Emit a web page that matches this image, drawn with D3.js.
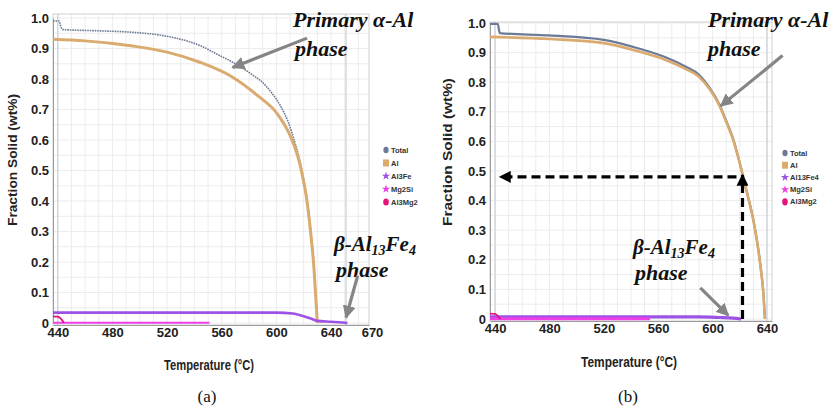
<!DOCTYPE html>
<html>
<head>
<meta charset="utf-8">
<script src="https://cdn.jsdelivr.net/npm/d3@7"></script>
<style>
  body { margin: 0; background: #fff; }
  svg { display: block; }
  .tick text { font-family: "Liberation Sans", Arial, sans-serif; font-weight: bold; fill: #222; }
</style>
</head>
<body>
<script>
// ---- data (temperature in °C, fraction solid) ----
const legendA = ["Total", "Al", "Al3Fe", "Mg2Si", "Al3Mg2"];
const legendB = ["Total", "Al", "Al13Fe4", "Mg2Si", "Al3Mg2"];
const tempTicksA = [440, 480, 520, 560, 600, 640, 670];
const tempTicksB = [440, 480, 520, 560, 600, 640];
const fracTicks = [0, 0.1, 0.2, 0.3, 0.4, 0.5, 0.6, 0.7, 0.8, 0.9, 1.0];

// panel (a)
const totalA = [[436.5,0.99],[441,0.99],[442.5,0.968],[444,0.962],[470,0.958],[495,0.953],[520,0.94],[544,0.91],[558,0.878],[568,0.855],[582,0.815],[590,0.788],[597,0.752],[603,0.712],[609,0.655],[613,0.6],[617,0.535],[620,0.47],[622,0.42],[625,0.31],[627.5,0.19],[629,0.08],[630,0]];
const alA = [[436.5,0.93],[460,0.925],[495,0.908],[520,0.888],[544,0.855],[568,0.806],[587,0.743],[600,0.69],[605,0.657],[609,0.625],[613,0.582],[617,0.525],[620,0.462],[622,0.412],[625,0.3],[627.5,0.18],[629,0.07],[630,0]];
const al3FeA = [[436.5,0.034],[600,0.034],[612,0.031],[620,0.022],[626,0.013],[630,0.007],[640,0.004],[648,0.0015],[652,0]];
const mg2SiA = [[436.5,0.001],[551,0.001]];
const al3Mg2A = [[436.5,0.022],[440,0.021],[442,0.015],[443.5,0.007],[444.5,0]];

// panel (b)
const totalB = [[436.3,0.997],[442,0.997],[443.5,0.966],[480,0.958],[520,0.943],[547,0.912],[565,0.885],[580,0.853],[590,0.825],[598,0.78],[605,0.725],[610,0.67],[615,0.61],[619,0.545],[622,0.49],[626,0.415],[630,0.335],[633,0.255],[635.5,0.17],[637.5,0.08],[638.5,0]];
const alB = [[436.3,0.953],[480,0.946],[520,0.932],[547,0.902],[565,0.876],[580,0.845],[590,0.818],[598,0.775],[605,0.721],[610,0.666],[615,0.607],[619,0.543],[622,0.488],[626,0.413],[630,0.333],[633,0.253],[635.5,0.168],[637.5,0.078],[638.5,0]];
const al13Fe4B = [[436.3,0.007],[590,0.007],[605,0.005],[615,0.003],[621,0]];
const mg2SiB = [[436.3,0.001],[554,0.001]];
const al3Mg2B = [[436.3,0.018],[440,0.017],[442,0.01],[443.5,0.003],[444,0]];

// estimate of the 50 % solid point marked in (b)
const halfSolidB = [[622, 0.48]];

const colors = {
  "Total": "#6c7a96", "Al": "#d9ab6e", "Al3Fe": "#9d52e6", "Al13Fe4": "#9d52e6",
  "Mg2Si": "#ee3fe6", "Al3Mg2": "#e5127a"
};

const W = 835, H = 406;
const svg = d3.select("body").append("svg").attr("width", W).attr("height", H);

const defs = svg.append("defs");
function arrowMarker(id, color, size) {
  defs.append("marker")
    .attr("id", id)
    .attr("viewBox", "0 0 10 10")
    .attr("refX", 9).attr("refY", 5)
    .attr("markerWidth", size).attr("markerHeight", size)
    .attr("markerUnits", "userSpaceOnUse")
    .attr("orient", "auto")
    .append("path").attr("d", "M0,0 L10,5 L0,10 Z").attr("fill", color);
}
arrowMarker("grayHead", "#858585", 13);
arrowMarker("blackHead", "#000", 12);

function drawPanel(p) {
  const x = d3.scaleLinear().domain(p.xDomain).range([p.left, p.right]);
  const y = d3.scaleLinear().domain([0, 1]).range([p.y0, p.y1]);
  const g = svg.append("g");

  // grid
  const vGrid = d3.range(440, p.xDomain[1], 10);
  g.selectAll(".vg").data(vGrid).enter().append("line")
    .attr("x1", d => x(d)).attr("x2", d => x(d))
    .attr("y1", p.top).attr("y2", p.bottom)
    .attr("stroke", "#ececec").attr("stroke-width", 1);
  const hGrid = d3.range(0, 1.001, 0.05);
  g.selectAll(".hg").data(hGrid).enter().append("line")
    .attr("x1", p.left).attr("x2", p.right)
    .attr("y1", d => y(d)).attr("y2", d => y(d))
    .attr("stroke", "#ececec").attr("stroke-width", 1);
  // darker range lines
  g.selectAll(".rg").data(p.rangeLines).enter().append("line")
    .attr("x1", d => x(d)).attr("x2", d => x(d))
    .attr("y1", p.top).attr("y2", p.bottom)
    .attr("stroke", "#c9ced6").attr("stroke-width", 1.2);

  // frame
  g.append("rect")
    .attr("x", p.left).attr("y", p.top)
    .attr("width", p.right - p.left).attr("height", p.bottom - p.top)
    .attr("fill", "none").attr("stroke", "#cfcfcf");

  // axes
  const yAxis = d3.axisLeft(y).tickValues(fracTicks).tickSize(0).tickPadding(4)
    .tickFormat(d => d === 0 ? "0" : d.toFixed(1));
  const ya = g.append("g").attr("transform", `translate(${p.left},0)`).call(yAxis);
  ya.select(".domain").attr("stroke", "#9a9a9a");
  ya.selectAll("text").style("font-size", "13px");

  const xAxis = d3.axisBottom(x).tickValues(p.xTicks).tickSize(0).tickPadding(3);
  const xa = g.append("g").attr("transform", `translate(0,${p.bottom})`).call(xAxis);
  xa.select(".domain").attr("stroke", "#9a9a9a");
  xa.selectAll("text").style("font-size", "13px");

  // axis titles
  g.append("text")
    .attr("transform", `translate(${p.yTitleX},${p.yTitleY}) rotate(-90)`)
    .attr("text-anchor", "middle")
    .attr("textLength", p.yTitleLen).attr("lengthAdjust", "spacingAndGlyphs")
    .style("font-family", "Liberation Sans, Arial, sans-serif")
    .style("font-weight", "bold").style("font-size", p.yTitleSize + "px")
    .attr("fill", "#222")
    .text("Fraction Solid (wt%)");
  g.append("text")
    .attr("x", (p.left + p.right) / 2 - 2).attr("y", p.xTitleY)
    .attr("text-anchor", "middle")
    .attr("textLength", p.xTitleLen).attr("lengthAdjust", "spacingAndGlyphs")
    .style("font-family", "Liberation Sans, Arial, sans-serif")
    .style("font-weight", "bold").style("font-size", "14.5px")
    .attr("fill", "#222")
    .text("Temperature (°C)");

  // curves
  const line = d3.line().x(d => x(d[0])).y(d => y(d[1])).curve(d3.curveMonotoneX);
  p.series.forEach(s => {
    g.append("path")
      .datum(s.data)
      .attr("d", line)
      .attr("fill", "none")
      .attr("stroke", colors[s.name])
      .attr("stroke-width", s.width)
      .attr("stroke-dasharray", s.dash || null)
      .attr("stroke-linejoin", "round");
  });

  // legend
  const lg = g.append("g").attr("transform", `translate(${p.legendX},${p.legendY})`);
  p.legend.forEach((name, i) => {
    const row = lg.append("g").attr("transform", `translate(0,${i * p.legendStep})`);
    const c = colors[name];
    if (name === "Total") {
      row.append("ellipse").attr("rx", 2.6).attr("ry", 3.2).attr("fill", c);
    } else if (name === "Al") {
      row.append("rect").attr("x", -3).attr("y", -3.5).attr("width", 6).attr("height", 7).attr("fill", c);
    } else if (name === "Al3Mg2") {
      row.append("ellipse").attr("rx", 2.8).attr("ry", 3.6).attr("fill", c);
    } else {
      row.append("path").attr("d", d3.symbol(d3.symbolStar, 22)()).attr("fill", c);
    }
    row.append("text").attr("x", 5).attr("y", 2.5)
      .style("font-family", "Liberation Sans, Arial, sans-serif")
      .style("font-weight", "bold").style("font-size", "7.5px")
      .attr("fill", "#333").text(name);
  });

  // annotations
  const ann = g.append("g")
    .style("font-family", "Liberation Serif, Times New Roman, serif")
    .style("font-weight", "bold").style("font-style", "italic")
    .style("font-size", "22px").attr("fill", "#111");
  ann.append("text").attr("x", p.primX).attr("y", p.primY).text("Primary α-Al");
  ann.append("text").attr("x", p.primX + p.phaseDx).attr("y", p.primY + 29).text("phase");
  const beta = ann.append("text").attr("x", p.betaX).attr("y", p.betaY).style("font-size", "21px");
  beta.append("tspan").text("β-Al");
  beta.append("tspan").attr("dy", 4).style("font-size", "14px").text("13");
  beta.append("tspan").attr("dy", -4).text("Fe");
  beta.append("tspan").attr("dy", 4).style("font-size", "14px").text("4");
  ann.append("text").attr("x", p.betaX + 2).attr("y", p.betaY + 26).text("phase");

  p.arrows.forEach(a => {
    g.append("line")
      .attr("x1", x(a[0][0])).attr("y1", y(a[0][1]))
      .attr("x2", x(a[1][0])).attr("y2", y(a[1][1]))
      .attr("stroke", "#858585").attr("stroke-width", 3.2)
      .attr("marker-end", "url(#grayHead)");
  });

  // 50 % solid guide (panel b)
  if (p.guide) {
    const gp = p.guide[0];
    g.append("line")
      .attr("x1", x(gp[0])).attr("y1", y(0))
      .attr("x2", x(gp[0])).attr("y2", y(gp[1]) - 2)
      .attr("stroke", "#000").attr("stroke-width", 3.2)
      .attr("stroke-dasharray", "9,5")
      .attr("marker-end", "url(#blackHead)");
    g.append("line")
      .attr("x1", x(gp[0]) - 6).attr("y1", y(gp[1]))
      .attr("x2", x(443.6)).attr("y2", y(gp[1]))
      .attr("stroke", "#000").attr("stroke-width", 3.2)
      .attr("stroke-dasharray", "9,5")
      .attr("marker-end", "url(#blackHead)");
  }

  // caption
  svg.append("text")
    .attr("x", p.captionX).attr("y", 402)
    .attr("text-anchor", "middle")
    .style("font-family", "Liberation Serif, Times New Roman, serif")
    .style("font-size", "17px").attr("fill", "#111")
    .text(p.caption);
}

drawPanel({
  xDomain: [436.5, 667.8], left: 53, right: 369, top: 14, bottom: 325,
  y0: 323, y1: 18, xTicks: tempTicksA, rangeLines: [440, 651],
  yTitleX: 17, yTitleY: 160, yTitleSize: 12, yTitleLen: 132, xTitleY: 370, xTitleLen: 90,
  legend: legendA, legendX: 386, legendY: 150, legendStep: 13,
  series: [
    { name: "Total", data: totalA, width: 1.6, dash: "1.6,0.9" },
    { name: "Al", data: alA, width: 3 },
    { name: "Al3Fe", data: al3FeA, width: 2.6 },
    { name: "Mg2Si", data: mg2SiA, width: 2 },
    { name: "Al3Mg2", data: al3Mg2A, width: 1.8 }
  ],
  primX: 293, primY: 27, phaseDx: 2,
  betaX: 334, betaY: 251,
  arrows: [
    [[622.5, 0.934], [568, 0.838]],
    [[659.5, 0.155], [651, 0.018]]
  ],
  caption: "(a)", captionX: 207
});

drawPanel({
  xDomain: [436.3, 643.7], left: 490, right: 772, top: 22, bottom: 321,
  y0: 319, y1: 23, xTicks: tempTicksB, rangeLines: [440, 640],
  yTitleX: 452, yTitleY: 152, yTitleSize: 12, yTitleLen: 148, xTitleY: 367, xTitleLen: 96,
  legend: legendB, legendX: 785, legendY: 153, legendStep: 12.2,
  series: [
    { name: "Total", data: totalB, width: 2.2 },
    { name: "Al", data: alB, width: 2.6 },
    { name: "Al13Fe4", data: al13Fe4B, width: 3.2 },
    { name: "Mg2Si", data: mg2SiB, width: 3 },
    { name: "Al3Mg2", data: al3Mg2B, width: 1.8 }
  ],
  primX: 708, primY: 27, phaseDx: 0,
  betaX: 633, betaY: 254,
  arrows: [
    [[651.5, 0.89], [606, 0.72]],
    [[591, 0.105], [611.5, 0.012]]
  ],
  guide: halfSolidB,
  caption: "(b)", captionX: 628
});
</script>
</body>
</html>
